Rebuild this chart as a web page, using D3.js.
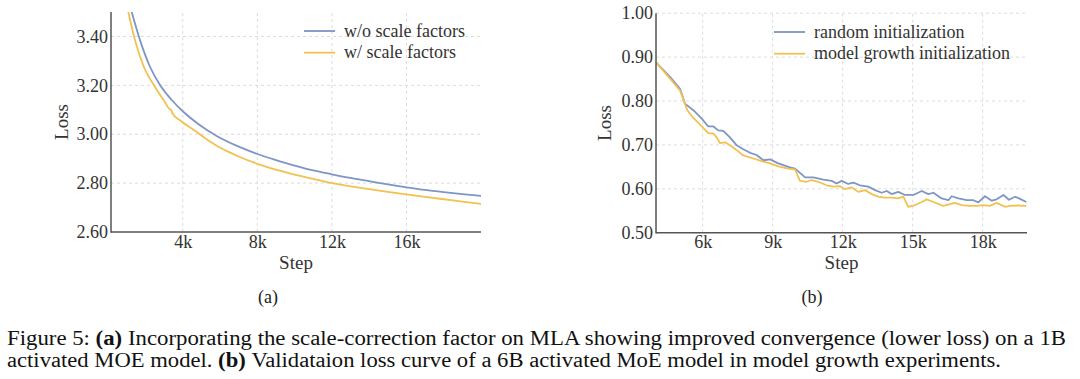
<!DOCTYPE html>
<html>
<head>
<meta charset="utf-8">
<script src="https://cdn.jsdelivr.net/npm/d3@7"></script>
<style>
  html, body { margin: 0; padding: 0; background: #fff; }
  svg { display: block; }
  text { font-family: "Liberation Serif", "Times New Roman", serif; }
</style>
</head>
<body>
<svg id="chart" width="1080" height="379"></svg>
<script>
// ---------- Data: panel (a) ----------
const stepsA_wo = [1260,1706,2242,2779,3406,4029,4925,5820,7070,8000,9000,10000,11000,12000,13000,14000,15000,16000,17000,18000,19000,20000];
const lossA_wo  = [3.50,3.385,3.276,3.201,3.140,3.092,3.037,2.993,2.947,2.919,2.894,2.872,2.852,2.836,2.821,2.808,2.795,2.783,2.772,2.763,2.755,2.748];
const stepsA_w  = [1078,1438,1883,2510,3047,3300,3370,3450,3852,4748,5300,5820,6400,7000,8000,9000,10000,11000,12000,13000,14000,15000,16000,17000,18000,19000,20000];
const lossA_w   = [3.50,3.385,3.281,3.193,3.131,3.102,3.100,3.085,3.057,3.009,2.978,2.953,2.930,2.909,2.879,2.855,2.835,2.817,2.80,2.787,2.775,2.764,2.754,2.744,2.734,2.724,2.715];
const seriesA = ["w/o scale factors", "w/ scale factors"];
const yTicksA = [2.6, 2.8, 3.0, 3.2, 3.4];
const xTicksA = [4000, 8000, 12000, 16000];

// ---------- Data: panel (b) ----------
const stepsB_rand = [4000,4600,5030,5240,5600,5960,6240,6460,6670,6880,7170,7460,7740,8030,8310,8600,8890,9240,9740,9960,10390,10740,11170,11530,11740,11960,12240,12460,12740,13100,13390,13670,13890,14100,14380,14670,15030,15390,15670,15890,16240,16530,16670,16960,17320,17600,17810,18100,18390,18600,18890,19130,19390,19600,19870];
const lossB_rand  = [0.888,0.855,0.828,0.794,0.779,0.760,0.742,0.742,0.733,0.732,0.717,0.699,0.690,0.682,0.677,0.665,0.667,0.658,0.649,0.646,0.626,0.626,0.621,0.618,0.612,0.618,0.611,0.614,0.608,0.605,0.597,0.591,0.595,0.588,0.593,0.586,0.586,0.595,0.588,0.591,0.578,0.574,0.583,0.578,0.574,0.574,0.569,0.583,0.573,0.576,0.586,0.575,0.582,0.577,0.570];
const stepsB_grow = [4000,4600,5030,5340,5560,5910,6240,6460,6600,6740,6960,7170,7460,7740,8170,8600,8890,9240,9670,9960,10170,10460,10670,10960,11310,11600,11890,12100,12390,12670,12960,13240,13530,13810,14100,14380,14600,14810,15100,15390,15600,15890,16310,16600,16810,17100,17460,17740,18030,18310,18600,18960,19170,19500,19870];
const lossB_grow  = [0.888,0.851,0.824,0.779,0.764,0.745,0.727,0.726,0.717,0.704,0.706,0.699,0.688,0.676,0.669,0.662,0.658,0.651,0.646,0.644,0.618,0.616,0.620,0.616,0.608,0.605,0.606,0.599,0.603,0.593,0.597,0.588,0.582,0.580,0.580,0.578,0.582,0.559,0.563,0.570,0.576,0.570,0.561,0.565,0.568,0.563,0.561,0.561,0.563,0.561,0.568,0.559,0.561,0.562,0.561];
const seriesB = ["random initialization", "model growth initialization"];
const yTicksB = [0.5, 0.6, 0.7, 0.8, 0.9, 1.0];
const xTicksB = [6000, 9000, 12000, 15000, 18000];

const subLabels = ["(a)", "(b)"];
const captionLines = [
  [["Figure 5:", false], ["(a)", true], ["Incorporating the scale-correction factor on MLA showing improved convergence (lower loss) on a 1B", false]],
  [["activated MOE model.", false], ["(b)", true], ["Validataion loss curve of a 6B activated MoE model in model growth experiments.", false]]
];

const colors = ["#7f95c6", "#f2c14f"];
const svg = d3.select("#chart");
const FONT = 18;

function panel(cfg) {
  const g = svg.append("g");
  const x = d3.scaleLinear().domain(cfg.xDomain).range(cfg.xRange);
  const y = d3.scaleLinear().domain(cfg.yDomain).range(cfg.yRange);
  const [x0, x1] = cfg.xRange, [y0, y1] = cfg.yRange;

  // grid
  g.append("g").selectAll("line").data(cfg.yGrid).join("line")
    .attr("x1", x0).attr("x2", x1).attr("y1", d => y(d)).attr("y2", d => y(d))
    .attr("stroke", "#dcdcdc").attr("stroke-width", 1).attr("stroke-dasharray", "3,3");
  g.append("g").selectAll("line").data(cfg.xTicks).join("line")
    .attr("x1", d => x(d)).attr("x2", d => x(d)).attr("y1", y0).attr("y2", y1)
    .attr("stroke", "#dcdcdc").attr("stroke-width", 1).attr("stroke-dasharray", "3,3");

  // clip
  const cid = "clip" + cfg.id;
  svg.append("clipPath").attr("id", cid).append("rect")
    .attr("x", x0).attr("y", y1).attr("width", x1 - x0).attr("height", y0 - y1);

  const line = d3.line().x(d => x(d[0])).y(d => y(d[1])).curve(cfg.curve);
  cfg.series.forEach((s, i) => {
    const pts = s.steps.map((st, k) => [st, s.loss[k]]);
    g.append("path").datum(pts).attr("d", line)
      .attr("fill", "none").attr("stroke", colors[i]).attr("stroke-width", 1.8)
      .attr("stroke-linejoin", "round")
      .attr("clip-path", `url(#${cid})`);
  });

  // axes
  const ax = g.append("g").attr("transform", `translate(0,${y0})`)
    .call(d3.axisBottom(x).tickValues(cfg.xTicks).tickSize(0).tickPadding(3).tickFormat(d => (d / 1000) + "k"));
  const ay = g.append("g").attr("transform", `translate(${x0},0)`)
    .call(d3.axisLeft(y).tickValues(cfg.yTicks).tickSize(0).tickPadding(3).tickFormat(d3.format(".2f")));
  [ax, ay].forEach(a => {
    a.select(".domain").remove();
    a.selectAll("text").attr("font-size", FONT).attr("fill", "#333")
      .attr("font-family", '"Liberation Serif", "Times New Roman", serif');
  });
  g.append("line").attr("x1", x0).attr("x2", x1).attr("y1", y0).attr("y2", y0)
    .attr("stroke", "#555").attr("stroke-width", 1.5);
  g.append("line").attr("x1", x0).attr("x2", x0).attr("y1", y0 + 0.75).attr("y2", y1)
    .attr("stroke", "#555").attr("stroke-width", 1.5);

  // axis titles
  g.append("text").attr("x", (x0 + x1) / 2).attr("y", 269).attr("text-anchor", "middle")
    .attr("font-size", FONT + 1).attr("fill", "#333").text("Step");
  g.append("text").attr("transform", `translate(${cfg.lossX},${(y0 + y1) / 2}) rotate(-90)`)
    .attr("text-anchor", "middle").attr("font-size", FONT + 1).attr("fill", "#333").text("Loss");

  // legend
  cfg.series.forEach((s, i) => {
    const ly = cfg.legY + i * 21.7;
    g.append("line").attr("x1", cfg.legX).attr("x2", cfg.legX + 31).attr("y1", ly).attr("y2", ly)
      .attr("stroke", colors[i]).attr("stroke-width", 1.8);
    g.append("text").attr("x", cfg.legX + 40).attr("y", ly).attr("dy", "0.32em")
      .attr("font-size", FONT).attr("fill", "#333").text(s.name);
  });

  // sub label
  g.append("text").attr("x", cfg.subX).attr("y", 303).attr("text-anchor", "middle")
    .attr("font-size", FONT).attr("fill", "#222").text(cfg.sub);
}

panel({
  id: "a", xDomain: [150, 20000], xRange: [111, 481], yDomain: [2.6, 3.5], yRange: [232, 12],
  yTicks: yTicksA, yGrid: yTicksA.slice(1), xTicks: xTicksA, curve: d3.curveMonotoneX,
  series: [{name: seriesA[0], steps: stepsA_wo, loss: lossA_wo}, {name: seriesA[1], steps: stepsA_w, loss: lossA_w}],
  lossX: 68, legX: 304, legY: 31, sub: subLabels[0], subX: 268
});
panel({
  id: "b", xDomain: [4000, 19900], xRange: [656, 1027], yDomain: [0.5, 1.0], yRange: [232.7, 13.2],
  yTicks: yTicksB, yGrid: yTicksB.slice(1), xTicks: xTicksB, curve: d3.curveLinear,
  series: [{name: seriesB[0], steps: stepsB_rand, loss: lossB_rand}, {name: seriesB[1], steps: stepsB_grow, loss: lossB_grow}],
  lossX: 611, legX: 774, legY: 32, sub: subLabels[1], subX: 812
});

// caption: each part is its own text element, fitted to the measured line width
const CAP = 20;
const capTargets = [[7, 1066, 344.5], [7, 1001, 367]];
captionLines.forEach((parts, li) => {
  const [xs, xe, by] = capTargets[li];
  const nodes = parts.map(p => svg.append("text").attr("y", by).attr("font-size", CAP)
    .attr("font-weight", p[1] ? "bold" : "normal").attr("fill", "#111").text(p[0]));
  const widths = nodes.map(n => n.node().getComputedTextLength());
  const space = CAP * 0.25;
  const total = d3.sum(widths) + space * (parts.length - 1);
  const k = (xe - xs) / total;
  let cx = xs;
  nodes.forEach((n, i) => {
    const w = widths[i] * k;
    n.attr("x", cx).attr("textLength", w).attr("lengthAdjust", "spacingAndGlyphs");
    cx += w + space * k;
  });
});
</script>
</body>
</html>
